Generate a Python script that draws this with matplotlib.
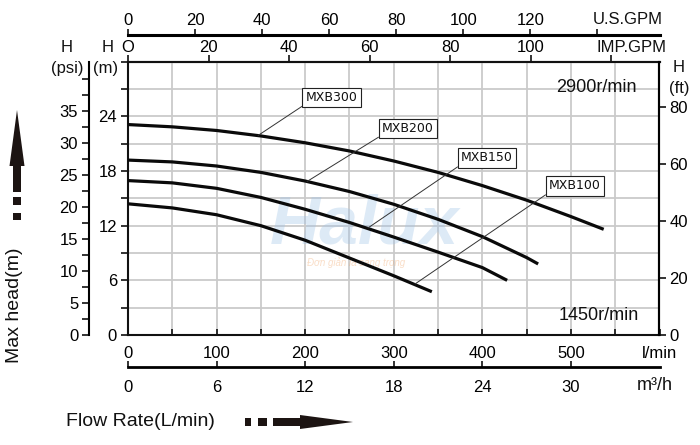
import numpy as np
import matplotlib
matplotlib.use("Agg")
import matplotlib.pyplot as plt
from matplotlib.patches import Polygon, Rectangle

plt.rcParams['font.family'] = ['Liberation Sans', 'DejaVu Sans']

# ---------------- data (flow in l/min, head in m) ----------------
mxb300_q = [0, 50, 100, 150, 200, 250, 300, 350, 400, 450, 500, 537]
mxb300_h = [23.1, 22.85, 22.45, 21.85, 21.1, 20.2, 19.1, 17.85, 16.4, 14.8, 13.0, 11.6]
mxb200_q = [0, 50, 100, 150, 200, 250, 300, 350, 400, 450, 463]
mxb200_h = [19.2, 19.0, 18.55, 17.85, 16.9, 15.75, 14.35, 12.7, 10.8, 8.5, 7.8]
mxb150_q = [0, 50, 100, 150, 200, 250, 300, 350, 400, 428]
mxb150_h = [16.95, 16.7, 16.1, 15.1, 13.8, 12.35, 10.75, 9.1, 7.4, 6.0]
mxb100_q = [0, 50, 100, 150, 200, 250, 300, 343]
mxb100_h = [14.4, 13.95, 13.2, 12.0, 10.4, 8.45, 6.5, 4.75]

series_names = ["MXB300", "MXB200", "MXB150", "MXB100"]
label_pos = [(229.7, 26.07), (316.1, 22.67), (405.3, 19.43), (504.6, 16.36)]
label_target = [(146.8, 21.9), (202.1, 16.85), (270.9, 11.75), (324.0, 5.6)]

lmin_ticks = [0, 100, 200, 300, 400, 500, 600]
lmin_labels = ["0", "100", "200", "300", "400", "500", "l/min"]
m3h_ticks = [0, 6, 12, 18, 24, 30]
usgpm_ticks = [0, 20, 40, 60, 80, 100, 120, 140]
usgpm_labels = ["0", "20", "40", "60", "80", "100", "120", ""]
impgpm_ticks = [0, 20, 40, 60, 80, 100, 120]
impgpm_labels = ["O", "20", "40", "60", "80", "100", ""]
m_ticks = [0, 6, 12, 18, 24]
psi_ticks = [0, 5, 10, 15, 20, 25, 30, 35]
ft_ticks = [0, 20, 40, 60, 80]

FT_PER_M = 3.19
PSI_PER_M = 1.422

# ---------------- layout (pixels) ----------------
W, H = 700, 445
L, R, T, B = 128, 659.5, 61.7, 335

fig = plt.figure(figsize=(W / 100, H / 100), dpi=100)
ax = fig.add_axes([L / W, (H - B) / H, (R - L) / W, (B - T) / H])
ax.set_xlim(0, 600)
ax.set_ylim(0, 30)

TS = 12
k = '#111111'
for s in ax.spines.values():
    s.set_linewidth(1.5)
    s.set_color(k)

ax.set_xticks(lmin_ticks)
ax.set_xticklabels(lmin_labels)
ax.set_xticks(np.arange(0, 601, 50), minor=True)
ax.set_yticks(m_ticks)
ax.set_yticks(np.arange(0, 31, 3), minor=True)
ax.tick_params(axis='x', which='both', direction='in', length=4, width=1.2,
               labelsize=TS, pad=8, top=False, color=k)
ax.tick_params(axis='y', which='both', direction='out', length=5, width=1.2,
               labelsize=TS, pad=3, right=False, color=k)
ax.grid(True, which='both', color='#cacaca', lw=1.3)
ax.set_axisbelow(True)

# curves
for q, h in [(mxb300_q, mxb300_h), (mxb200_q, mxb200_h),
             (mxb150_q, mxb150_h), (mxb100_q, mxb100_h)]:
    ax.plot(q, h, color='#0a0a0a', lw=2.3, solid_capstyle='butt',
            solid_joinstyle='round', zorder=4)

for name, (tx, ty), (px, py) in zip(series_names, label_pos, label_target):
    ax.annotate(name, xy=(px, py), xytext=(tx, ty), ha='center', va='center',
                fontsize=9, family='DejaVu Sans', color='#111111', zorder=6,
                bbox=dict(boxstyle='square,pad=0.25', fc='white', ec='#222222', lw=0.8),
                arrowprops=dict(arrowstyle='-', color='#333333', lw=0.7,
                                relpos=(0, 0), shrinkA=0, shrinkB=0))

ax.text(0.957, 0.905, "2900r/min", transform=ax.transAxes, ha='right', va='center',
        fontsize=13, color=k)
ax.text(0.962, 0.073, "1450r/min", transform=ax.transAxes, ha='right', va='center',
        fontsize=13, color=k)

# faint watermark
ax.text(0.445, 0.40, "Halux", transform=ax.transAxes, ha='center', va='center',
        fontsize=50, fontstyle='italic', fontweight='bold', color='#9fc3e6', alpha=0.35,
        zorder=1)
ax.text(0.43, 0.265, "Đơn giản là sang trọng", transform=ax.transAxes, ha='center',
        va='center', fontsize=7, fontstyle='italic', color='#f0a060', alpha=0.35, zorder=1)

# right axis (ft)
axf = ax.twinx()
axf.set_ylim(0, 30 * FT_PER_M)
axf.set_yticks(ft_ticks)
for n, s in axf.spines.items():
    s.set_visible(n == 'right')
    s.set_linewidth(1.5)
axf.tick_params(axis='y', direction='out', length=5, width=1.2, labelsize=TS, pad=2, color=k)

# top IMP.GPM (on top spine)
imp = ax.secondary_xaxis('top', functions=(lambda x: x / 4.546, lambda g: g * 4.546))
imp.set_xticks(impgpm_ticks)
imp.set_xticklabels(impgpm_labels)
imp.tick_params(direction='out', length=5, width=1.2, labelsize=TS, pad=0, color=k)
imp.spines['top'].set_linewidth(1.5)

# U.S.GPM line above
us = ax.secondary_xaxis((B - 35) / (B - T), functions=(lambda x: x / 3.785, lambda g: g * 3.785))
us.set_xticks(usgpm_ticks)
us.set_xticklabels(usgpm_labels)
us.tick_params(direction='out', length=4, width=1.2, labelsize=TS, pad=1, color=k)
us.spines['top'].set_linewidth(2.2)

# m3/h line below
m3 = ax.secondary_xaxis(-(367 - B) / (B - T), functions=(lambda x: x * 0.06, lambda v: v / 0.06))
m3.set_xticks(m3h_ticks)
m3.tick_params(direction='in', length=4, width=1.2, labelsize=TS, pad=9, color=k)
m3.spines['bottom'].set_linewidth(2.0)

# psi axis on the left
psi = ax.secondary_yaxis(-(L - 89.3) / (R - L), functions=(lambda m: m * PSI_PER_M, lambda p: p / PSI_PER_M))
psi.set_yticks(psi_ticks)
psi.set_yticks(np.arange(0, 41, 2.5), minor=True)
psi.tick_params(which='both', direction='out', length=5, width=1.2, labelsize=TS, pad=3, color=k)
psi.spines['left'].set_linewidth(1.5)

# ---------------- overlay: unit labels, arrows ----------------
ov = fig.add_axes([0, 0, 1, 1], zorder=10)
ov.set_xlim(0, W)
ov.set_ylim(H, 0)
ov.axis('off')
ov.patch.set_alpha(0)

def t(x, y, s, **kw):
    kw.setdefault('fontsize', TS)
    ov.text(x, y, s, ha=kw.pop('ha', 'center'), va=kw.pop('va', 'center'), color=k, **kw)

t(663, 20, "U.S.GPM", ha='right')
t(666, 48, "IMP.GPM", ha='right')
t(67, 47, "H")
t(67, 69, "(psi)")
t(108, 47, "H")
t(106, 69, "(m)")
t(679, 67, "H")
t(679, 88, "(ft)")
t(673, 385, "m³/h", ha='right', fontsize=13)

dark = '#1c1412'
# vertical arrow
ov.add_patch(Polygon([(17, 110), (24.5, 166), (9.5, 166)], closed=True, fc=dark, ec='none'))
ov.add_patch(Rectangle((13, 165), 8, 27, fc=dark, ec='none'))
ov.add_patch(Rectangle((13, 197), 8, 8, fc=dark, ec='none'))
ov.add_patch(Rectangle((13, 213), 8, 7, fc=dark, ec='none'))
ov.text(15, 305, "Max head(m)", rotation=90, ha='center', va='center', fontsize=14, color=k)

# horizontal arrow
ov.text(140, 422, "Flow Rate(L/min)", ha='center', va='center', fontsize=14, color=k)
ov.add_patch(Rectangle((245, 418), 6, 8, fc=dark, ec='none'))
ov.add_patch(Rectangle((258, 418), 9, 8, fc=dark, ec='none'))
ov.add_patch(Rectangle((273, 418), 30, 8, fc=dark, ec='none'))
ov.add_patch(Polygon([(300, 415), (353, 422), (300, 429)], closed=True, fc=dark, ec='none'))

fig.savefig("out.png", dpi=100)
